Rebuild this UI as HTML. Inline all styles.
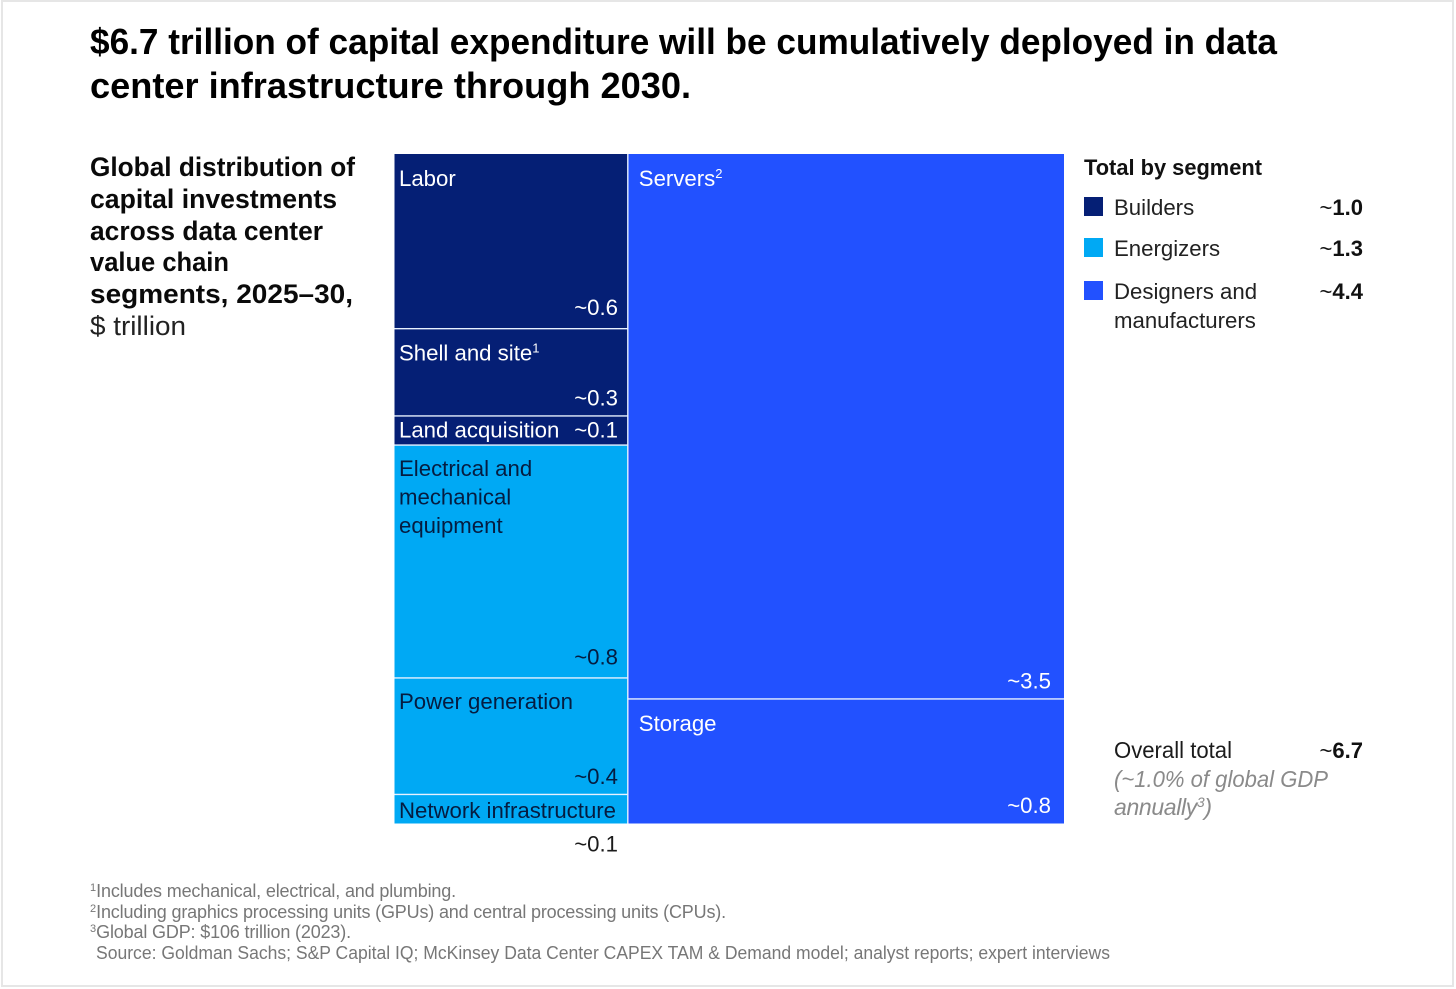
<!DOCTYPE html>
<html lang="en">
<head>
<meta charset="utf-8">
<title>Data center capital expenditure through 2030</title>
<style>
html,body{margin:0;padding:0;background:#fff;width:1456px;height:989px;overflow:hidden}
svg{display:block;font-family:"Liberation Sans",Arial,sans-serif}
.title{font-size:36px;font-weight:700;fill:#000}
.sub{font-size:27px;font-weight:700;fill:#0a0a0a}
.body{font-size:23px;fill:#1b1b1b}
.foot{font-size:18px;fill:#777}
.gray{font-size:23px;font-style:italic;fill:#8a8a8a}
</style>
</head>
<body>
<svg id="chart" xmlns="http://www.w3.org/2000/svg" width="1456" height="989" viewBox="0 0 1456 989">
  <rect x="2" y="1" width="1451" height="985" fill="#fff" stroke="#e6e6e6" stroke-width="2"/>

  <text class="title" x="90" y="54" textLength="1187" lengthAdjust="spacingAndGlyphs">$6.7 trillion of capital expenditure will be cumulatively deployed in data</text>
  <text class="title" x="90" y="98" textLength="601" lengthAdjust="spacingAndGlyphs">center infrastructure through 2030.</text>

  <g>
    <text class="sub" x="90" y="176" textLength="265" lengthAdjust="spacingAndGlyphs">Global distribution of</text>
    <text class="sub" x="90" y="208" textLength="247" lengthAdjust="spacingAndGlyphs">capital investments</text>
    <text class="sub" x="90" y="240" textLength="233" lengthAdjust="spacingAndGlyphs">across data center</text>
    <text class="sub" x="90" y="271" textLength="139" lengthAdjust="spacingAndGlyphs">value chain</text>
    <text class="sub" x="90" y="303" textLength="263" lengthAdjust="spacingAndGlyphs">segments, 2025–30,</text>
    <text x="90" y="335" font-size="27" fill="#222" textLength="96" lengthAdjust="spacingAndGlyphs">$ trillion</text>
  </g>

  <g id="treemap"></g>

  <g id="legend">
    <text x="1084" y="175" font-size="22" font-weight="700" fill="#111" textLength="178" lengthAdjust="spacingAndGlyphs">Total by segment</text>
  </g>

  <g>
    <text class="body" x="1114" y="758" textLength="118" lengthAdjust="spacingAndGlyphs">Overall total</text>
    <text id="overall-value" x="1363" y="758" text-anchor="end" font-size="22" fill="#111"></text>
    <text class="gray" x="1114" y="787" textLength="214" lengthAdjust="spacingAndGlyphs">(~1.0% of global GDP</text>
    <text class="gray" x="1114" y="815" letter-spacing="-0.35">annually<tspan font-size="14" dy="-8">3</tspan><tspan dy="8">)</tspan></text>
  </g>

  <g>
    <text class="foot" x="90" y="897"><tspan font-size="11" dy="-6">1</tspan><tspan dy="6" textLength="360">Includes mechanical, electrical, and plumbing.</tspan></text>
    <text class="foot" x="90" y="918"><tspan font-size="11" dy="-6">2</tspan><tspan dy="6" textLength="630">Including graphics processing units (GPUs) and central processing units (CPUs).</tspan></text>
    <text class="foot" x="90" y="938"><tspan font-size="11" dy="-6">3</tspan><tspan dy="6" textLength="255">Global GDP: $106 trillion (2023).</tspan></text>
    <text class="foot" x="96" y="959" textLength="1014" lengthAdjust="spacingAndGlyphs">Source: Goldman Sachs; S&amp;P Capital IQ; McKinsey Data Center CAPEX TAM &amp; Demand model; analyst reports; expert interviews</text>
  </g>
</svg>

<script>
const leftCategories = ['Labor', 'Shell and site', 'Land acquisition', 'Electrical and|mechanical|equipment', 'Power generation', 'Network infrastructure'];
const leftValues = [0.6, 0.3, 0.1, 0.8, 0.4, 0.1];
const leftSegments = ['builders', 'builders', 'builders', 'energizers', 'energizers', 'energizers'];
const leftNotes = ['', '1', '', '', '', ''];
const rightCategories = ['Servers', 'Storage'];
const rightValues = [3.5, 0.8];
const rightSegments = ['designers', 'designers'];
const rightNotes = ['2', ''];
const legendNames = ['Builders', 'Energizers', 'Designers and|manufacturers'];
const legendKeys = ['builders', 'energizers', 'designers'];
const legendTotals = [1.0, 1.3, 4.4];
const overallTotal = [6.7];

const NS = 'http://www.w3.org/2000/svg';
const fills = {builders: '#051f75', energizers: '#00a9f4', designers: '#2251ff'};
const inks = {builders: '#ffffff', energizers: '#051c40', designers: '#ffffff'};
const plot = {left: 394.5, right: 1064, top: 154, bottom: 823.5};
const sum = a => a.reduce((s, v) => s + v, 0);
const grandTotal = sum(leftValues) + sum(rightValues);
const xScale = v => plot.left + v / grandTotal * (plot.right - plot.left);
const yScale = (v, total) => plot.top + v / total * (plot.bottom - plot.top);
const treemap = document.getElementById('treemap');
const legend = document.getElementById('legend');
const separators = [];

function addText(parent, name, x, y, str, size, fill, anchor) {
  const t = document.createElementNS(NS, 'text');
  
  
  t.setAttribute('x', x);
  t.setAttribute('y', y);
  t.setAttribute('font-size', size);
  t.setAttribute('fill', fill);
  if (anchor) t.setAttribute('text-anchor', anchor);
  t.textContent = str;
  parent.appendChild(t);
  return t;
}

function addSup(textEl, str) {
  const s = document.createElementNS(NS, 'tspan');
  s.setAttribute('font-size', '13');
  s.setAttribute('dy', '-8');
  s.textContent = str;
  textEl.appendChild(s);
}

function slug(s) {
  return s.split('|').join(' ').toLowerCase().replace(/\s+/g, '-');
}

function addRule(name, x1, y1, x2, y2) {
  const l = document.createElementNS(NS, 'line');
  
  
  l.setAttribute('x1', x1);
  l.setAttribute('y1', y1);
  l.setAttribute('x2', x2);
  l.setAttribute('y2', y2);
  l.setAttribute('stroke', '#e8f1ff');
  l.setAttribute('stroke-width', '1.4');
  treemap.appendChild(l);
}

function drawColumn(categories, values, segments, notes, x0, x1, labelPad, valuePad, tallRise) {
  const total = sum(values);
  let running = 0;
  values.forEach((v, i) => {
    const y0 = yScale(running, total);
    running += v;
    const y1 = yScale(running, total);
    const seg = segments[i];
    const id = slug(categories[i]);

    const r = document.createElementNS(NS, 'rect');
    
    
    r.setAttribute('x', x0);
    r.setAttribute('y', y0);
    r.setAttribute('width', x1 - x0);
    r.setAttribute('height', y1 - y0);
    r.setAttribute('fill', fills[seg]);
    treemap.appendChild(r);

    const small = (y1 - y0) < 40;
    const lines = categories[i].split('|');
    const firstBase = small
      ? y0 + (seg === 'builders' ? 21.5 : 23.5)
      : y0 + (seg === 'energizers' ? 31 : 32);
    lines.forEach((ln, k) => {
      const t = addText(treemap, 'label-' + id + (lines.length > 1 ? '-' + (k + 1) : ''), x0 + labelPad, firstBase + k * 28.5, ln, 22.2, inks[seg]);
      if (k === 0 && notes[i]) addSup(t, notes[i]);
    });

    const printed = '~' + v.toFixed(1);
    const valueX = x1 - valuePad;
    if (!small) {
      const rise = (y1 - y0) > 150 ? tallRise : 0;
      addText(treemap, 'value-' + id, valueX, y1 - 10.5 - rise, printed, 22.2, inks[seg], 'end');
    } else if (seg === 'builders') {
      addText(treemap, 'value-' + id, valueX, firstBase, printed, 22.2, inks[seg], 'end');
    } else {
      addText(treemap, 'value-' + id, valueX, plot.bottom + 28, printed, 22.2, '#1b1b1b', 'end');
    }
    if (i < values.length - 1) separators.push(['separator-' + id, x0, y1, x1, y1]);
  });
}

const splitX = xScale(sum(leftValues));
drawColumn(leftCategories, leftValues, leftSegments, leftNotes, plot.left, splitX, 4.5, 9.8, 3);
drawColumn(rightCategories, rightValues, rightSegments, rightNotes, splitX, plot.right, 11, 13, 0);
separators.forEach(s => addRule(s[0], s[1], s[2], s[3], s[4]));
addRule('separator-columns', splitX, plot.top, splitX, plot.bottom);

function addValue(el, v) {
  const a = document.createElementNS(NS, 'tspan');
  a.textContent = '~';
  const b = document.createElementNS(NS, 'tspan');
  b.setAttribute('font-weight', '700');
  b.textContent = v.toFixed(1);
  el.appendChild(a);
  el.appendChild(b);
}

let legendBase = 215;
legendNames.forEach((name, i) => {
  const id = slug(name);
  const sw = document.createElementNS(NS, 'rect');
  
  
  sw.setAttribute('x', 1084);
  sw.setAttribute('y', legendBase - 18);
  sw.setAttribute('width', 19);
  sw.setAttribute('height', 19);
  sw.setAttribute('fill', fills[legendKeys[i]]);
  legend.appendChild(sw);
  name.split('|').forEach((ln, k) => {
    addText(legend, 'legend-label-' + id + (k ? '-2' : ''), 1114, legendBase + k * 29, ln, 22.2, '#222');
  });
  const val = addText(legend, 'legend-value-' + legendKeys[i], 1363, legendBase, '', 22, '#111', 'end');
  addValue(val, legendTotals[i]);
  legendBase += i === 0 ? 41 : 43;
});

addValue(document.getElementById('overall-value'), overallTotal[0]);
</script>
</body>
</html>
